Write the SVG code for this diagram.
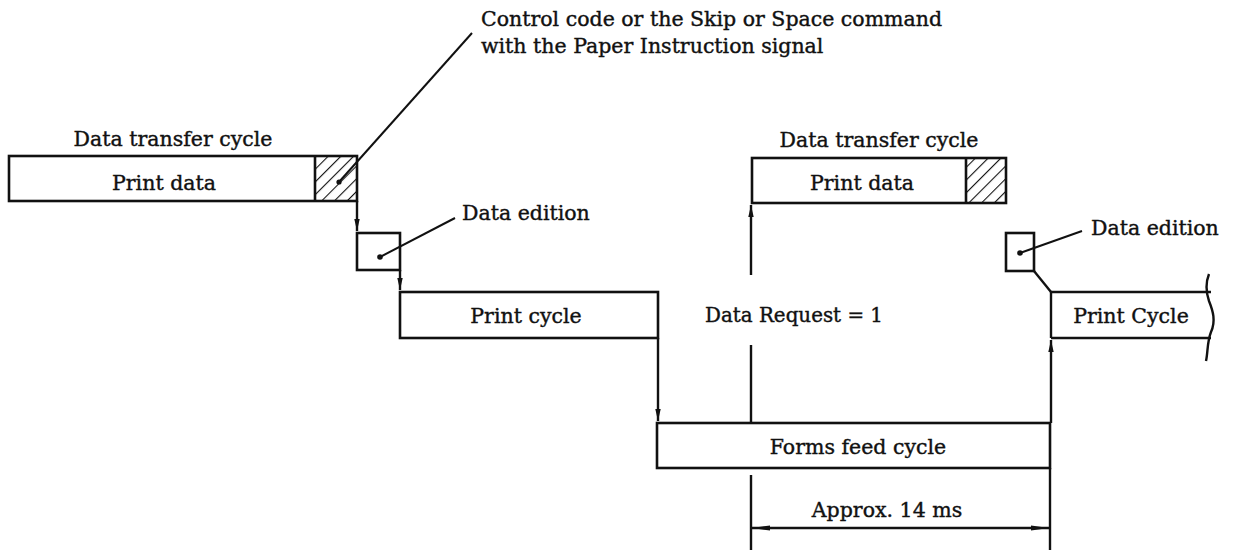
<svg xmlns="http://www.w3.org/2000/svg" width="1233" height="550" viewBox="0 0 1233 550">
<style>
  .box{fill:none;stroke:#111;stroke-width:2.6}
  .ln{fill:none;stroke:#111;stroke-width:2.4}
  .thin{fill:none;stroke:#111;stroke-width:2}
  .t{font-family:"DejaVu Serif","Liberation Serif",serif;font-size:20.5px;fill:#111;stroke:#111;stroke-width:0.4}
  .c{text-anchor:middle}
  .dot{fill:#111}
</style>
<defs>
  <pattern id="hatch" patternUnits="userSpaceOnUse" width="9" height="9" patternTransform="rotate(45)">
    <line x1="0" y1="0" x2="0" y2="9" stroke="#111" stroke-width="2.2"/>
  </pattern>
  <marker id="arr" markerUnits="userSpaceOnUse" markerWidth="12" markerHeight="7" refX="12" refY="3.5" orient="auto">
    <path d="M0,0.8 L12,3.5 L0,6.2 z" fill="#111"/>
  </marker>
  <marker id="dim" markerUnits="userSpaceOnUse" markerWidth="18" markerHeight="7" refX="18" refY="3.5" orient="auto-start-reverse">
    <path d="M0,1 L18,3.5 L0,6 z" fill="#111"/>
  </marker>
</defs>

<!-- Top annotation -->
<g id="note-control">
  <text class="t" x="481" y="26">Control code or the Skip or Space command</text>
  <text class="t" x="481" y="53">with the Paper Instruction signal</text>
</g>

<!-- Left data transfer cycle -->
<g id="dtc1">
  <text class="t c" x="173" y="146">Data transfer cycle</text>
  <rect x="315" y="156" width="42" height="45" fill="url(#hatch)"/>
  <rect class="box" x="9" y="156" width="348" height="45"/>
  <line class="box" x1="315" y1="156" x2="315" y2="201"/>
  <text class="t c" x="164" y="190">Print data</text>
</g>

<!-- Left data edition -->
<g id="de1">
  <rect class="box" x="357" y="233" width="43" height="37"/>
  <text class="t" x="462" y="220">Data edition</text>
</g>

<!-- Left print cycle -->
<g id="pc1">
  <rect class="box" x="400" y="292" width="258" height="46"/>
  <text class="t c" x="526" y="323">Print cycle</text>
</g>

<!-- Data request label -->
<g id="dr">
  <text class="t" x="705" y="322" textLength="178" lengthAdjust="spacingAndGlyphs">Data Request = 1</text>
</g>

<!-- Right data transfer cycle -->
<g id="dtc2">
  <text class="t c" x="879" y="147">Data transfer cycle</text>
  <rect x="966" y="158" width="40" height="45" fill="url(#hatch)"/>
  <rect class="box" x="752" y="158" width="254" height="45"/>
  <line class="box" x1="966" y1="158" x2="966" y2="203"/>
  <text class="t c" x="862" y="190">Print data</text>
</g>

<!-- Right data edition -->
<g id="de2">
  <rect class="box" x="1006" y="233" width="28" height="38"/>
  <text class="t" x="1091" y="235">Data edition</text>
</g>

<!-- Right print cycle (broken) -->
<g id="pc2">
  <line class="box" x1="1051" y1="292" x2="1211" y2="292"/>
  <line class="box" x1="1051" y1="338" x2="1211" y2="338"/>
  <path class="ln" d="M1209,274 C1205,284 1206,292 1209,301 C1213,311 1216,321 1211,332 C1207,342 1208,352 1206,361"/>
  <text class="t c" x="1131" y="323">Print Cycle</text>
</g>

<!-- Forms feed cycle -->
<g id="ffc">
  <rect class="box" x="657" y="423" width="393" height="45"/>
  <text class="t c" x="858" y="454">Forms feed cycle</text>
</g>

<!-- Dimension label -->
<g id="dimlabel">
  <text class="t c" x="887" y="517">Approx. 14 ms</text>
</g>

<!-- Connectors -->
<g id="connectors">
  <!-- leader to hatch -->
  <line class="thin" x1="472" y1="33" x2="339" y2="182"/>
  <circle class="dot" cx="339" cy="182" r="2.6"/>
  <!-- leader to left data edition -->
  <line class="thin" x1="455" y1="218" x2="380" y2="257"/>
  <circle class="dot" cx="380" cy="257" r="2.8"/>
  <!-- leader to right data edition -->
  <line class="thin" x1="1082" y1="231" x2="1020" y2="253"/>
  <circle class="dot" cx="1020" cy="253" r="2.8"/>

  <!-- flow arrows -->
  <line class="ln" x1="357" y1="201" x2="357" y2="231" marker-end="url(#arr)"/>
  <line class="ln" x1="400" y1="270" x2="400" y2="290" marker-end="url(#arr)"/>
  <line class="ln" x1="658" y1="338" x2="658" y2="421" marker-end="url(#arr)"/>

  <!-- data request line x=751 -->
  <line class="ln" x1="751" y1="275" x2="751" y2="205" marker-end="url(#arr)"/>
  <line class="ln" x1="751" y1="345" x2="751" y2="423"/>
  <line class="ln" x1="751" y1="475" x2="751" y2="550"/>

  <!-- right edge line x=1051 -->
  <line class="ln" x1="1034" y1="271" x2="1051" y2="292"/>
  <line class="ln" x1="1051" y1="292" x2="1051" y2="338"/>
  <line class="ln" x1="1051" y1="423" x2="1051" y2="340" marker-end="url(#arr)"/>
  <line class="ln" x1="1050" y1="468" x2="1050" y2="550"/>

  <!-- dimension -->
  <line class="ln" x1="752" y1="528" x2="1049" y2="528" marker-start="url(#dim)" marker-end="url(#dim)"/>
</g>
</svg>
